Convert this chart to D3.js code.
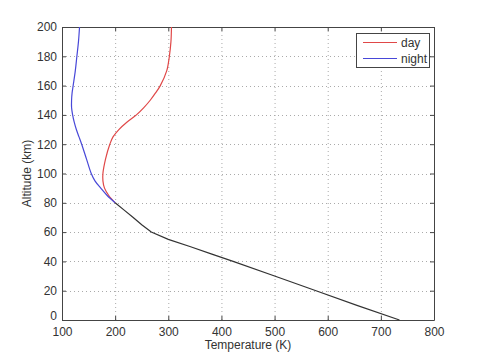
<!DOCTYPE html>
<html>
<head>
<meta charset="utf-8">
<script src="https://cdn.jsdelivr.net/npm/d3@7"></script>
<style>
  body { margin: 0; background: #fff; }
  svg text { font-family: "Liberation Sans", Arial, sans-serif; fill: #333; }
</style>
</head>
<body>
<div id="chart"></div>
<script>
// altitude (km) and temperature (K)
const lowAlt   = [0, 10, 20, 30, 40, 45, 50, 55, 60, 65, 70, 75, 80];
const lowTemp  = [735, 655, 578, 500, 422, 382, 342, 300, 268, 250, 234, 217, 200];

const upAlt    = [80, 85, 90, 95, 100, 110, 120, 125, 130, 135, 140, 145, 150, 155, 160, 170, 180, 190, 200];
const dayTemp  = [200, 188, 180, 177, 177, 182, 190, 196, 207, 222, 240, 254, 266, 276, 285, 297, 302, 305, 306];
const nightTemp= [200, 185, 173, 162, 155, 146, 137, 132, 127, 123, 120, 118, 118, 119, 121, 125, 128, 131, 133];

const xTicks = [100, 200, 300, 400, 500, 600, 700, 800];
const yTicks = [0, 20, 40, 60, 80, 100, 120, 140, 160, 180, 200];

const W = 480, H = 360;
const m = { left: 62, top: 27, right: 46, bottom: 40 };
const iw = W - m.left - m.right, ih = H - m.top - m.bottom;

const svg = d3.select('#chart').append('svg')
  .attr('width', W).attr('height', H);

const x = d3.scaleLinear().domain([100, 800]).range([m.left, m.left + iw]);
const y = d3.scaleLinear().domain([0, 200]).range([m.top + ih, m.top]);

// grid
const grid = svg.append('g').attr('stroke', '#aaa').attr('stroke-width', 1)
  .attr('stroke-dasharray', '1,3');
xTicks.slice(1, -1).forEach(t => {
  grid.append('line').attr('x1', x(t) + 0.5).attr('x2', x(t) + 0.5)
    .attr('y1', y(0)).attr('y2', y(200));
});
yTicks.slice(1, -1).forEach(t => {
  grid.append('line').attr('y1', Math.round(y(t)) + 0.5).attr('y2', Math.round(y(t)) + 0.5)
    .attr('x1', x(100)).attr('x2', x(800));
});

// axes (MATLAB-style box, ticks inward)
const fmt = d3.format('d');
const gx = svg.append('g').attr('transform', `translate(0,${y(0)})`)
  .call(d3.axisBottom(x).tickValues(xTicks).tickFormat(fmt).tickSizeInner(-4).tickSizeOuter(0).tickPadding(7));
const gxt = svg.append('g').attr('transform', `translate(0,${y(200)})`)
  .call(d3.axisTop(x).tickValues(xTicks).tickFormat('').tickSizeInner(-4).tickSizeOuter(0));
const gy = svg.append('g').attr('transform', `translate(${x(100)},0)`)
  .call(d3.axisLeft(y).tickValues(yTicks).tickFormat(fmt).tickSizeInner(-4).tickSizeOuter(0).tickPadding(5));
const gyr = svg.append('g').attr('transform', `translate(${x(800)},0)`)
  .call(d3.axisRight(y).tickValues(yTicks).tickFormat('').tickSizeInner(-4).tickSizeOuter(0));
[gx, gxt, gy, gyr].forEach(g => {
  g.selectAll('path, line').attr('stroke', '#444');
  g.selectAll('text').attr('font-size', 12).attr('fill', '#444')
    .style('font-family', '"Liberation Sans", Arial, sans-serif');
});
// the "0" label sits just above the "100" label, as in the reference
gy.selectAll('.tick').filter(d => d === 0).select('text').attr('dy', '-0.05em');

// lines
const smooth = d3.line().curve(d3.curveCatmullRom.alpha(0.5));
const straight = d3.line();
const dayPts = upAlt.map((a, i) => [x(dayTemp[i]), y(a)]);
const nightPts = upAlt.map((a, i) => [x(nightTemp[i]), y(a)]);
const lowPts = lowAlt.map((a, i) => [x(lowTemp[i]), y(a)]);

svg.append('path').attr('d', smooth(dayPts)).attr('fill', 'none')
  .attr('stroke', '#e04848').attr('stroke-width', 1.2);
svg.append('path').attr('d', smooth(nightPts)).attr('fill', 'none')
  .attr('stroke', '#4848d8').attr('stroke-width', 1.2);
svg.append('path').attr('d', straight(lowPts)).attr('fill', 'none')
  .attr('stroke', '#333').attr('stroke-width', 1.2);

// axis labels
svg.append('text').attr('x', x(450)).attr('y', 349)
  .attr('text-anchor', 'middle').attr('font-size', 12).text('Temperature  (K)');
svg.append('text').attr('transform', `translate(31,${y(100)}) rotate(-90)`)
  .attr('text-anchor', 'middle').attr('font-size', 12).text('Altitude  (km)');

// legend
const lg = svg.append('g');
lg.append('rect').attr('x', 356.5).attr('y', 33.5).attr('width', 73).attr('height', 34)
  .attr('fill', '#fff').attr('stroke', '#444');
[['day', '#e04848', 42.5], ['night', '#4848d8', 58.5]].forEach(([name, c, ly]) => {
  lg.append('line').attr('x1', 363).attr('x2', 397).attr('y1', ly).attr('y2', ly)
    .attr('stroke', c).attr('stroke-width', 1.2);
  lg.append('text').attr('x', 401).attr('y', ly + 4).attr('font-size', 12).text(name);
});
</script>
</body>
</html>
